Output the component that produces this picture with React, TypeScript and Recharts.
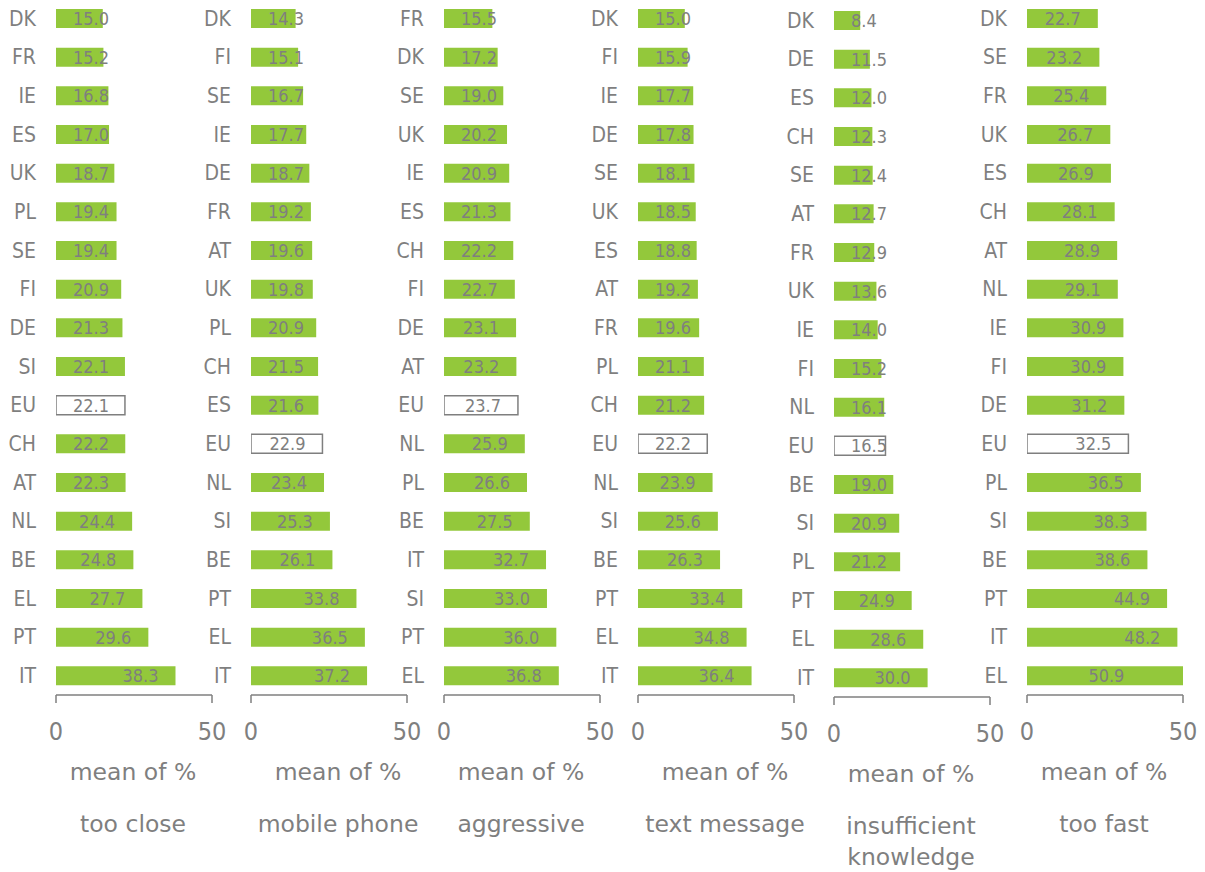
import React from "react";
import { BarChart, Bar, XAxis, YAxis, Cell, LabelList } from "recharts";

const tooCloseCountries = ["DK", "FR", "IE", "ES", "UK", "PL", "SE", "FI", "DE", "SI", "EU", "CH", "AT", "NL", "BE", "EL", "PT", "IT"];
const tooCloseValues = [15.0, 15.2, 16.8, 17.0, 18.7, 19.4, 19.4, 20.9, 21.3, 22.1, 22.1, 22.2, 22.3, 24.4, 24.8, 27.7, 29.6, 38.3];

const mobileCountries = ["DK", "FI", "SE", "IE", "DE", "FR", "AT", "UK", "PL", "CH", "ES", "EU", "NL", "SI", "BE", "PT", "EL", "IT"];
const mobileValues = [14.3, 15.1, 16.7, 17.7, 18.7, 19.2, 19.6, 19.8, 20.9, 21.5, 21.6, 22.9, 23.4, 25.3, 26.1, 33.8, 36.5, 37.2];

const aggressiveCountries = ["FR", "DK", "SE", "UK", "IE", "ES", "CH", "FI", "DE", "AT", "EU", "NL", "PL", "BE", "IT", "SI", "PT", "EL"];
const aggressiveValues = [15.5, 17.2, 19.0, 20.2, 20.9, 21.3, 22.2, 22.7, 23.1, 23.2, 23.7, 25.9, 26.6, 27.5, 32.7, 33.0, 36.0, 36.8];

const textCountries = ["DK", "FI", "IE", "DE", "SE", "UK", "ES", "AT", "FR", "PL", "CH", "EU", "NL", "SI", "BE", "PT", "EL", "IT"];
const textValues = [15.0, 15.9, 17.7, 17.8, 18.1, 18.5, 18.8, 19.2, 19.6, 21.1, 21.2, 22.2, 23.9, 25.6, 26.3, 33.4, 34.8, 36.4];

const knowledgeCountries = ["DK", "DE", "ES", "CH", "SE", "AT", "FR", "UK", "IE", "FI", "NL", "EU", "BE", "SI", "PL", "PT", "EL", "IT"];
const knowledgeValues = [8.4, 11.5, 12.0, 12.3, 12.4, 12.7, 12.9, 13.6, 14.0, 15.2, 16.1, 16.5, 19.0, 20.9, 21.2, 24.9, 28.6, 30.0];

const fastCountries = ["DK", "SE", "FR", "UK", "ES", "CH", "AT", "NL", "IE", "FI", "DE", "EU", "PL", "SI", "BE", "PT", "IT", "EL"];
const fastValues = [22.7, 23.2, 25.4, 26.7, 26.9, 28.1, 28.9, 29.1, 30.9, 30.9, 31.2, 32.5, 36.5, 38.3, 38.6, 44.9, 48.2, 50.9];

const axisTicks = [0, 50];
const axisTitle = "mean of %";

const FONT = "'DejaVu Sans Condensed', 'Noto Sans', sans-serif";
const TITLE_FONT = "'DejaVu Sans', Verdana, sans-serif";
const GREY = "#7f7f7f";
const GREEN = "#93c83b";

// value label: right-aligned inside the bar, or pushed to a fixed start when the bar is short
function ValueLabel(props: any) {
  const { x, y, width, height, value } = props;
  const v = Number(value);
  let tx = x + width - 17;
  let anchor: "start" | "end" | "middle" = "end";
  if (width < 70) {
    tx = x + 17;
    anchor = "start";
  }
  if (v > 50) {
    tx = x + width / 2;
    anchor = "middle";
  }
  return (
    <text
      x={tx}
      y={y + height / 2}
      textAnchor={anchor}
      dominantBaseline="central"
      fontSize={18}
      fill={GREY}
      fontFamily={FONT}
    >
      {v.toFixed(1)}
    </text>
  );
}

function Panel({ countries, values, left, top }: { countries: string[]; values: number[]; left: number; top: number }) {
  const data = countries.map((c, i) => ({ country: c, value: values[i] }));
  return (
    <div style={{ position: "absolute", left: left - 50, top }}>
      <BarChart
        width={226}
        height={760}
        data={data}
        layout="vertical"
        margin={{ top: 0, right: 20, bottom: 0, left: 0 }}
      >
        <XAxis
          type="number"
          domain={[0, 50]}
          ticks={axisTicks}
          allowDataOverflow
          interval={0}
          height={64}
          tickSize={8}
          tickMargin={19}
          axisLine={{ stroke: GREY, strokeWidth: 1.5 }}
          tickLine={{ stroke: GREY, strokeWidth: 1.5 }}
          tick={{ fill: GREY, fontSize: 25, fontFamily: FONT }}
        />
        <YAxis
          type="category"
          dataKey="country"
          width={50}
          interval={0}
          axisLine={false}
          tickLine={false}
          tickSize={0}
          tickMargin={20}
          tick={{ fill: GREY, fontSize: 21, fontFamily: FONT }}
        />
        <Bar dataKey="value" barSize={19} isAnimationActive={false}>
          {data.map((d) => (
            <Cell
              key={d.country}
              fill={d.country === "EU" ? "#ffffff" : GREEN}
              stroke={d.country === "EU" ? GREY : "none"}
              strokeWidth={1.5}
            />
          ))}
          <LabelList dataKey="value" content={ValueLabel} />
        </Bar>
      </BarChart>
    </div>
  );
}

const panels = [
  { countries: tooCloseCountries, values: tooCloseValues, left: 56, top: -1, cx: 133, title: ["too close"] },
  { countries: mobileCountries, values: mobileValues, left: 251, top: -1, cx: 338, title: ["mobile phone"] },
  { countries: aggressiveCountries, values: aggressiveValues, left: 444, top: -1, cx: 521, title: ["aggressive"] },
  { countries: textCountries, values: textValues, left: 638, top: -1, cx: 725, title: ["text message"] },
  { countries: knowledgeCountries, values: knowledgeValues, left: 834, top: 1, cx: 911, title: ["insufficient", "knowledge"] },
  { countries: fastCountries, values: fastValues, left: 1027, top: -1, cx: 1104, title: ["too fast"] },
];

export default function App() {
  return (
    <div style={{ position: "absolute", left: 0, top: 0, width: 1205, height: 872, background: "#fff", overflow: "hidden" }}>
      {panels.map((p) => (
        <Panel key={p.title.join(" ")} countries={p.countries} values={p.values} left={p.left} top={p.top} />
      ))}
      <svg width={1205} height={872} style={{ position: "absolute", left: 0, top: 0, pointerEvents: "none" }}>
        {panels.map((p) => {
          const dy = p.top + 1;
          return (
            <g key={p.title.join(" ")} fill={GREY} fontFamily={TITLE_FONT} fontSize={23.5} textAnchor="middle">
              <text x={p.cx} y={780 + dy}>{axisTitle}</text>
              {p.title.map((t, i) => (
                <text key={t} x={p.cx} y={832 + dy + i * 31}>{t}</text>
              ))}
            </g>
          );
        })}
      </svg>
    </div>
  );
}
